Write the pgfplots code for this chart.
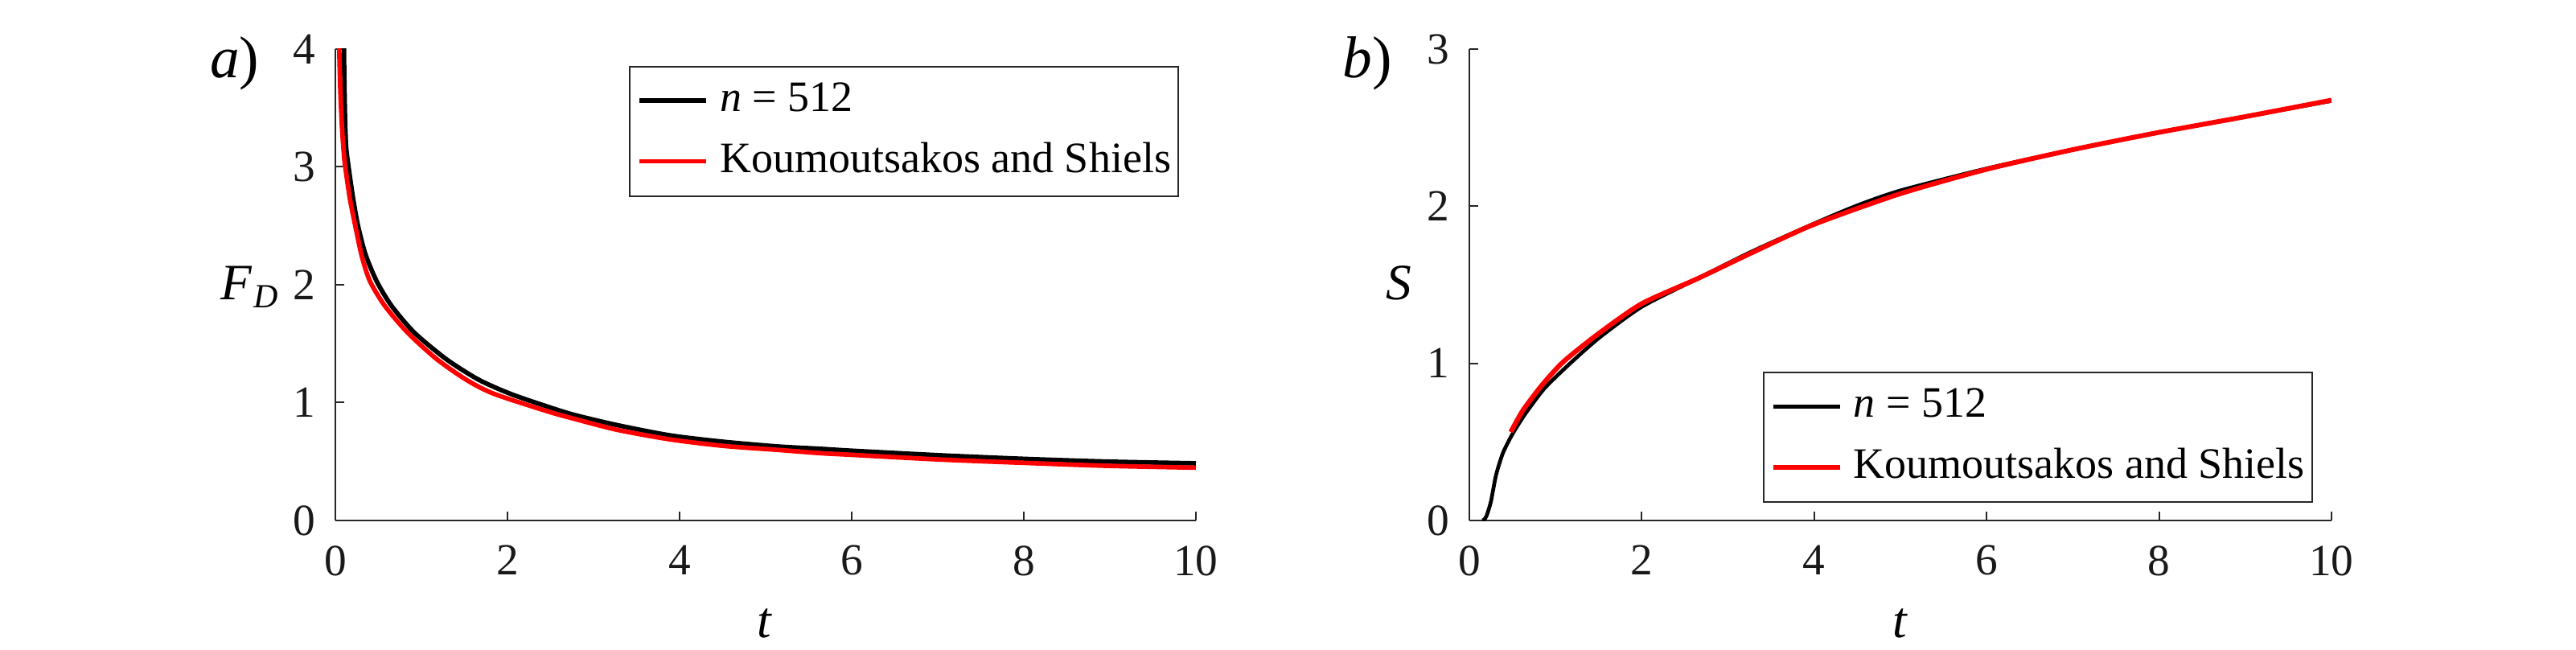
\documentclass[border=0pt]{standalone}
\usepackage{fontspec}
\setmainfont{Liberation Serif}
\usepackage{pgfplots}
\pgfplotsset{compat=1.18}
\definecolor{axgray}{RGB}{38,38,38}
\pgfplotsset{
  myaxis/.style={
    scale only axis, width=160.5pt, height=87.9pt,
    xmin=0, xmax=10, ymin=0,
    enlargelimits=false,
    axis lines=left, axis line style={-, draw=axgray, line width=0.3pt},
    tick style={draw=axgray, line width=0.3pt},
    tick align=inside, major tick length=1.7pt,
    xtick={0,2,4,6,8,10},
    /pgf/number format/assume math mode=true,
    tick label style={font=\fontsize{8.3}{10}\selectfont, text=black!90},
    xticklabel style={inner sep=0pt, anchor=north, yshift=-4.5pt},
    yticklabel style={inner sep=0pt, anchor=east, xshift=-3.6pt},
    legend cell align=left,
    legend image code/.code={\draw[##1] (0pt,0pt) -- (12.5pt,0pt);},
    legend style={draw=axgray, line width=0.3pt, fill=white,
      inner xsep=1.35pt, inner ysep=2.9pt, row sep=4.3pt, column sep=2.1pt,
      nodes={inner sep=0pt}, font=\fontsize{8.1}{10}\selectfont},
  }
}
\begin{document}
\begin{tikzpicture}
\useasboundingbox (0,0) rectangle (480.45pt,121.05pt);
% ---------- a) ----------
\begin{axis}[myaxis, at={(62.55pt,24pt)}, anchor=south west,
  width=160.5pt, ymax=4, ytick={0,1,2,3,4},
  legend style={at={(0.9804,0.9642)}, anchor=north east}]
\addplot[black, line width=0.85pt, smooth, tension=0.45] coordinates {
(0.098,4.3) (0.10,4.0) (0.105,3.7) (0.113,3.4) (0.125,3.17) (0.153,3.0)
(0.206,2.733) (0.262,2.505) (0.349,2.26) (0.48,2.03) (0.651,1.823)
(0.916,1.595) (1.29,1.368) (1.664,1.195) (2.04,1.073) (2.47,0.965)
(2.78,0.895) (3.27,0.81) (3.89,0.722) (4.51,0.668) (5.14,0.628) (5.64,0.608)
(6.0,0.592) (7.03,0.553) (8.0,0.523) (8.96,0.50) (10,0.485)};
\addlegendentry{\textit{n} = 512}
\addplot[red, line width=0.85pt, smooth, tension=0.45] coordinates {
(0.043,4.3) (0.045,4.0) (0.06,3.6) (0.08,3.3) (0.10,3.1) (0.115,3.0)
(0.168,2.733) (0.23,2.505) (0.308,2.24) (0.402,2.03) (0.573,1.823)
(0.838,1.595) (1.18,1.368) (1.539,1.186) (1.85,1.073) (2.47,0.925)
(2.78,0.862) (3.27,0.77) (3.89,0.688) (4.51,0.633) (5.14,0.599) (5.64,0.571)
(6.0,0.557) (7.03,0.517) (8.0,0.489) (8.96,0.464) (10,0.448)};
\addlegendentry{Koumoutsakos and Shiels}
\end{axis}
% ---------- b) ----------
\begin{axis}[myaxis, at={(274.05pt,24pt)}, anchor=south west,
  width=160.8pt, ymax=3, ytick={0,1,2,3},
  legend style={at={(0.9785,0.0375)}, anchor=south east}]
\addplot[black, line width=0.7pt, smooth, tension=0.4] coordinates {
(0.15,0.0) (0.17,0.005) (0.2,0.03) (0.25,0.12) (0.31,0.29) (0.39,0.43)
(0.5,0.55) (0.65,0.68) (0.87,0.84) (1.15,0.99) (1.5,1.16) (2.0,1.36)
(2.65,1.54) (3.27,1.71) (4.0,1.89) (4.5,2.005) (5.0,2.10) (6.0,2.24)
(7.0,2.36) (8.0,2.47) (9.0,2.57) (10,2.67)};
\addlegendentry{\textit{n} = 512}
\addplot[red, line width=0.9pt, smooth, tension=0.4] coordinates {
(0.48,0.563) (0.62,0.70) (0.84,0.86) (1.09,1.01) (1.5,1.19) (2.0,1.38)
(2.65,1.54) (3.3,1.71) (4.0,1.885) (5.0,2.08) (6.0,2.235) (7.0,2.36)
(8.0,2.47) (9.0,2.57) (10,2.675)};
\addlegendentry{Koumoutsakos and Shiels}
\end{axis}
% ---------- labels ----------
\node[anchor=base west, inner sep=0pt, font=\fontsize{11}{13}\selectfont] at (39pt,106.55pt) {\textit{a})};
\node[anchor=base west, inner sep=0pt, font=\fontsize{11}{13}\selectfont] at (250.2pt,106.55pt) {\textit{b})};
\node[anchor=base east, inner sep=0pt, font=\fontsize{9.5}{11}\selectfont] at (52.05pt,65.25pt)
  {\textit{F}\kern0.3pt\raisebox{-1.5pt}{\fontsize{6.3}{7}\selectfont\textit{D}}};
\node[anchor=base east, inner sep=0pt, font=\fontsize{9.5}{11}\selectfont] at (263.4pt,65.25pt) {\textit{S}};
\node[anchor=base, inner sep=0pt, font=\fontsize{9.5}{11}\selectfont] at (142.65pt,2.25pt) {\textit{t}};
\node[anchor=base, inner sep=0pt, font=\fontsize{9.5}{11}\selectfont] at (354.45pt,2.25pt) {\textit{t}};
\end{tikzpicture}
\end{document}
